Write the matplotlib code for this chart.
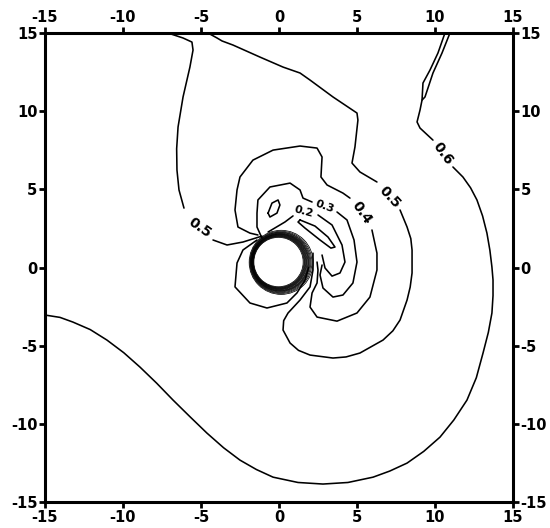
#Contour map around a cylinder, lines.
import numpy as np
import matplotlib
matplotlib.use('Agg')
import matplotlib.pyplot as plt
from matplotlib.patches import Circle

plt.rcParams['axes.unicode_minus'] = False

#contour lines (x, y)
line_06 = [(-15, -3.04), (-14.04, -3.19), (-13.21, -3.49), (-12.1, -3.97), (-11.03, -4.64), (-9.95, -5.45),
           (-8.91, -6.37), (-7.84, -7.40), (-6.79, -8.48), (-5.70, -9.55), (-4.62, -10.59), (-3.55, -11.53),
           (-2.50, -12.32), (-1.45, -12.92), (-0.38, -13.41), (1.22, -13.75), (2.82, -13.85), (4.42, -13.75),
           (6.03, -13.41), (7.10, -13.02), (8.21, -12.51), (9.28, -11.76), (10.32, -10.85), (11.21, -9.75),
           (12.05, -8.48), (12.65, -7.05), (13.08, -5.47), (13.42, -4.15), (13.65, -2.91), (13.72, -1.80),
           (13.72, -0.80), (13.65, 0.03), (13.52, 1.10), (13.33, 2.20), (13.05, 3.30), (12.69, 4.32),
           (12.28, 5.10), (11.79, 5.79), (11.15, 6.43)]
line_06_top = [(9.87, 8.15), (9.04, 8.92), (8.85, 9.31), (9.04, 10.07), (9.17, 10.71), (9.23, 11.80),
               (9.68, 12.63), (10.19, 13.72), (10.64, 15.0)]
line_06_strand = [(9.17, 10.71), (9.36, 10.91), (9.87, 12.44), (10.45, 13.72), (10.96, 15.0)]

line_05_left_a = [(-7.12, 15.0), (-6.15, 14.68), (-5.58, 14.42), (-5.51, 13.91), (-5.71, 12.82), (-6.15, 10.91),
                  (-6.47, 8.99), (-6.56, 7.60), (-6.54, 6.23), (-6.41, 4.96), (-6.09, 3.80)]
line_05_left_b = [(-4.23, 1.76), (-3.33, 1.44), (-2.31, 1.63), (-1.09, 2.01)]

line_05_right_a = [(-4.55, 15.0), (-3.97, 14.68), (-3.65, 14.49), (-2.95, 14.23), (-1.22, 13.46), (0.26, 12.82),
                   (1.35, 12.44), (1.99, 11.99), (3.46, 10.91), (5.00, 9.88), (5.06, 9.43), (4.87, 7.71),
                   (4.68, 6.68), (5.19, 6.11), (6.28, 5.47)]
line_05_right_b = [(7.76, 3.68), (8.21, 2.59), (8.45, 1.85), (8.53, 1.12), (8.53, -0.35), (8.41, -1.25),
                   (8.21, -2.08), (7.76, -3.36), (7.30, -4.05), (6.67, -4.64), (5.19, -5.47), (4.30, -5.72),
                   (3.46, -5.79), (1.99, -5.60), (1.25, -5.30), (0.71, -4.83), (0.26, -4.00), (0.30, -3.40),
                   (0.58, -2.91), (1.35, -2.08), (1.99, -1.24), (2.18, -0.16), (2.18, 0.92)]

line_04_a = [(-1.35, 2.08), (-1.86, 2.20), (-2.63, 2.59), (-2.82, 3.68), (-2.69, 4.96), (-2.50, 5.79),
             (-1.67, 6.87), (-0.38, 7.51), (1.35, 7.77), (2.44, 7.64), (2.76, 7.07), (2.69, 5.79),
             (3.08, 5.28), (4.10, 4.76), (4.55, 4.44)]
line_04_b = [(5.96, 2.40), (6.28, 0.92), (6.28, -0.16), (5.83, -1.89), (5.00, -2.91), (3.72, -3.43),
             (2.44, -3.17), (1.99, -2.53), (2.12, -1.63), (2.44, -0.99), (2.50, -0.16), (2.44, 0.35)]

line_03_a = [(-1.09, 1.88), (-1.41, 2.59), (-1.41, 3.48), (-1.35, 4.32), (-0.58, 5.15), (0.71, 5.40),
             (1.35, 4.96), (1.54, 4.44), (2.12, 4.19)]
line_03_b = [(3.72, 3.55), (4.36, 3.04), (4.81, 1.76), (5.00, 0.35), (4.74, -0.99), (4.10, -1.76),
             (3.46, -1.89), (2.82, -1.31), (2.63, -0.48), (2.76, 0.16)]

line_02_a = [(-0.70, 2.27), (0.38, 2.91), (0.90, 3.30)]
line_02_b = [(2.50, 3.36), (3.40, 2.72), (4.04, 1.44), (4.23, 0.35), (3.91, -0.35), (3.40, -0.55),
             (2.95, -0.03), (2.76, 0.80)]

loop_narrow = [(1.35, 3.04), (2.31, 2.65), (3.14, 1.95), (3.59, 1.31), (3.33, 1.24), (2.63, 1.76),
               (1.67, 2.52), (1.22, 2.91), (1.35, 3.04)]
loop_small = [(-0.70, 3.48), (-0.45, 4.12), (-0.06, 4.32), (0.06, 4.00), (-0.13, 3.48), (-0.58, 3.23),
              (-0.70, 3.48)]
loop_lower_left = [(-1.41, 1.76), (-2.31, 1.12), (-2.69, 0.29), (-2.82, -1.24), (-1.86, -2.27),
                   (-0.77, -2.59), (0.51, -2.27), (1.15, -1.63), (1.67, -0.80), (1.90, 0.0)]

#tight rings hugging the cylinder
ring_radius = [1.58, 1.62, 1.65, 1.68, 1.71, 1.74, 1.77, 1.80, 1.83, 1.86, 1.90, 1.94, 1.99, 2.05]
ring_cx = [-0.03, -0.02, -0.01, 0.0, 0.01, 0.02, 0.03, 0.05, 0.06, 0.07, 0.08, 0.10, 0.12, 0.14]
ring_cy = [0.35, 0.35, 0.35, 0.35, 0.35, 0.35, 0.35, 0.34, 0.34, 0.34, 0.34, 0.33, 0.33, 0.33]

#contour labels: text, x, y, rotation
label_text = ['0.6', '0.5', '0.5', '0.4', '0.3', '0.2']
label_x = [10.51, -5.06, 7.12, 5.32, 2.95, 1.60]
label_y = [7.32, 2.52, 4.51, 3.48, 3.87, 3.55]
label_rot = [-54, -35, -47, -55, -20, -15]
label_size = [10, 10, 10, 10, 8, 8]

ticks = [-15, -10, -5, 0, 5, 10, 15]

fig = plt.figure(figsize=(5.5, 5.28), dpi=100)
ax = fig.add_axes([0.0818, 0.0492, 0.8509, 0.8883])

main_lines = [line_06, line_06_top, line_06_strand, line_05_left_a, line_05_left_b, line_05_right_a,
              line_05_right_b, line_04_a, line_04_b, line_03_a, line_03_b, line_02_a, line_02_b,
              loop_narrow, loop_small, loop_lower_left]
for pts in main_lines:
    arr = np.array(pts)
    ax.plot(arr[:, 0], arr[:, 1], color='black', lw=1.15, solid_capstyle='round', solid_joinstyle='round')

for r, cx, cy in zip(ring_radius, ring_cx, ring_cy):
    ax.add_patch(Circle((cx, cy), r, fill=False, color='black', lw=0.55))

for t, x, y, rot, fs in zip(label_text, label_x, label_y, label_rot, label_size):
    ax.text(x, y, t, rotation=rot, fontsize=fs, fontweight='bold', ha='center', va='center',
            rotation_mode='anchor')

ax.set_xlim(-15, 15)
ax.set_ylim(-15, 15)
ax.set_xticks(ticks)
ax.set_yticks(ticks)
ax.tick_params(direction='out', length=4.5, width=2, pad=1, labelsize=10.5,
               top=True, right=True, labeltop=True, labelright=True)
for sp in ax.spines.values():
    sp.set_linewidth(2.2)

# top/right labels are separate text objects, make them all bold
for t in ax.xaxis.get_major_ticks() + ax.yaxis.get_major_ticks():
    t.label1.set_fontweight('bold')
    t.label2.set_fontweight('bold')

plt.savefig('out.png', dpi=100)
plt.close()
